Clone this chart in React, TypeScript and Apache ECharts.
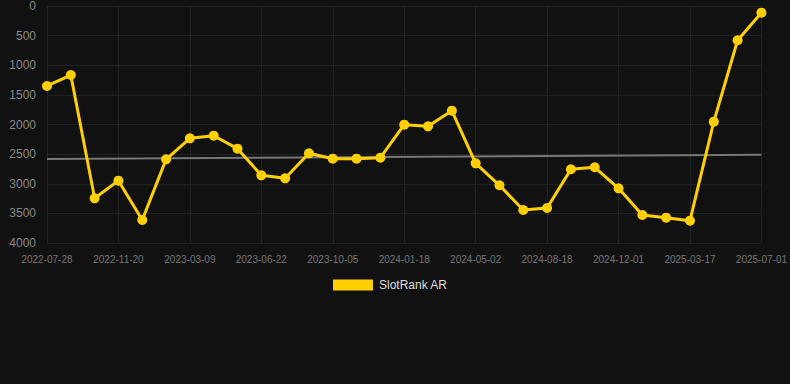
import React, { useEffect, useRef } from "react";
import * as echarts from "echarts";

const dates = [
  "2022-07-28", "2022-09-05", "2022-10-13",
  "2022-11-20", "2022-12-26", "2023-01-31",
  "2023-03-09", "2023-04-13", "2023-05-18",
  "2023-06-22", "2023-07-27", "2023-08-31",
  "2023-10-05", "2023-11-09", "2023-12-14",
  "2024-01-18", "2024-02-22", "2024-03-28",
  "2024-05-02", "2024-06-06", "2024-07-12",
  "2024-08-18", "2024-09-22", "2024-10-27",
  "2024-12-01", "2024-12-31", "2025-02-08",
  "2025-03-17", "2025-04-21", "2025-05-27",
  "2025-07-01",
];

const rankValues = [
  1350, 1165, 3246, 2948, 3612, 2588, 2233, 2189, 2408, 2858, 2908,
  2486, 2577, 2577, 2560, 2003, 2031, 1767, 2655, 3026, 3443, 3409,
  2756, 2722, 3077, 3527, 3573, 3623, 1952, 578, 113,
];

const trendStart = 2582;
const trendEnd = 2510;

const yTicks = { min: 0, max: 4000, interval: 500 };

export default function App() {
  const ref = useRef<HTMLDivElement>(null);

  useEffect(() => {
    if (!ref.current) return;
    const chart = echarts.init(ref.current, null, { renderer: "svg" });
    const trendData = dates.map((_, i) =>
      i === 0 ? trendStart : i === dates.length - 1 ? trendEnd : null
    );
    chart.setOption({
      animation: false,
      backgroundColor: "#111111",
      textStyle: { fontFamily: "Liberation Sans, Arial, sans-serif" },
      grid: { left: 47, right: 28, top: 6, bottom: 141 },
      legend: {
        data: [{ name: "SlotRank AR", icon: "rect" }],
        top: 274,
        left: 328,
        itemWidth: 40,
        itemHeight: 11,
        itemGap: 10,
        textStyle: { color: "#dddddd", fontSize: 12, padding: [0, 0, 0, 1] },
      },
      xAxis: {
        type: "category",
        data: dates,
        boundaryGap: false,
        axisLine: { show: false },
        axisTick: { show: false },
        axisLabel: {
          interval: 2,
          color: "#777777",
          fontSize: 10,
          margin: 11,
        },
        splitLine: {
          show: true,
          interval: 2,
          lineStyle: { color: "#222222", width: 1 },
        },
      },
      yAxis: {
        type: "value",
        inverse: true,
        min: yTicks.min,
        max: yTicks.max,
        interval: yTicks.interval,
        axisLine: { show: false },
        axisTick: { show: false },
        axisLabel: {
          color: "#888888",
          fontSize: 12,
          margin: 11,
          formatter: (v: number) => String(v),
        },
        splitLine: { lineStyle: { color: "#222222", width: 1 } },
      },
      series: [
        {
          name: "trend",
          type: "line",
          data: trendData,
          connectNulls: true,
          showSymbol: false,
          symbol: "none",
          lineStyle: { color: "#777777", width: 2 },
          z: 1,
          silent: true,
        },
        {
          name: "SlotRank AR",
          type: "line",
          data: rankValues,
          symbol: "circle",
          symbolSize: 10,
          itemStyle: { color: "#ffd000" },
          lineStyle: { color: "#ffd000", width: 3 },
          z: 2,
        },
      ],
    });
    return () => chart.dispose();
  }, []);

  return <div ref={ref} style={{ width: 790, height: 384, position: "absolute", left: 0, top: 0 }} />;
}
